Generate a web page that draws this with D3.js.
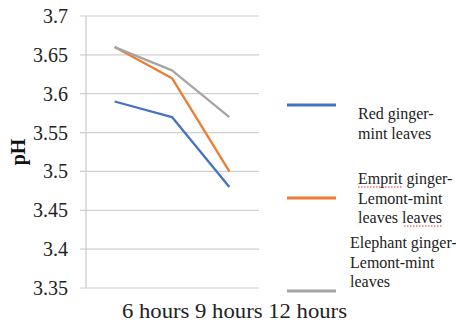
<!DOCTYPE html>
<html><head><meta charset="utf-8">
<script src="https://cdn.jsdelivr.net/npm/d3@7"></script>
<style>html,body{margin:0;padding:0;background:#fff}svg{display:block}
text{font-family:"Liberation Serif","Times New Roman","DejaVu Serif",serif;}</style>
</head><body>
<script>
const categories = ["6 hours", "9 hours", "12 hours"];
const seriesNames = [
  ["Red ginger-", "mint leaves"],
  ["Emprit ginger-", "Lemont-mint", "leaves leaves"],
  ["Elephant ginger-", "Lemont-mint", "leaves"]
];
const redValues = [3.59, 3.57, 3.48];
const empritValues = [3.66, 3.62, 3.50];
const elephantValues = [3.66, 3.63, 3.57];
const yTicks = [3.35, 3.4, 3.45, 3.5, 3.55, 3.6, 3.65, 3.7];
const yTickLabels = ["3.35", "3.4", "3.45", "3.5", "3.55", "3.6", "3.65", "3.7"];
const colors = ["#4472C4", "#ED7D31", "#A5A5A5"];
const series = [redValues, empritValues, elephantValues];

const W = 456, H = 326;
const svg = d3.select("body").append("svg").attr("width", W).attr("height", H);

const x = d3.scalePoint().domain(categories).range([86, 258]).padding(0.5);
const y = d3.scaleLinear().domain([3.35, 3.7]).range([288, 16]);

// gridlines
svg.append("g").selectAll("line").data(yTicks).join("line")
  .attr("x1", 80).attr("x2", 259)
  .attr("y1", d => y(d)).attr("y2", d => y(d))
  .attr("stroke", "#d0d0d0").attr("stroke-width", 1.2);

// vertical axis line
svg.append("line").attr("x1", 86).attr("x2", 86).attr("y1", y(3.7)).attr("y2", y(3.35))
  .attr("stroke", "#c8c8c8").attr("stroke-width", 1.2);

// y tick labels
svg.append("g").selectAll("text").data(yTicks).join("text")
  .attr("x", 68).attr("y", d => y(d)).attr("dy", "0.35em")
  .attr("text-anchor", "end").attr("font-size", 20)
  .attr("fill", "#222").text((d, i) => yTickLabels[i]);

// y title
svg.append("text").attr("transform", "translate(25,152) rotate(-90)")
  .attr("text-anchor", "middle").attr("font-size", 20)
  .attr("font-weight", "bold").attr("fill", "#111").text("pH");

// x labels (rendered as one run like the source)
svg.append("text").attr("x", 122).attr("y", 318)
  .attr("font-size", 20).attr("fill", "#222")
  .attr("textLength", 225).attr("lengthAdjust", "spacingAndGlyphs")
  .text(categories.join(" "));

// lines
const line = d3.line().x((d, i) => x(categories[i])).y(d => y(d));
svg.append("g").selectAll("path").data(series).join("path")
  .attr("d", d => line(d)).attr("fill", "none")
  .attr("stroke", (d, i) => colors[i]).attr("stroke-width", 2.3)
  .attr("stroke-linejoin", "round");

// legend
const legendLineY = [105, 198, 291];
const legendTextX = [358, 358, 350];
const legendTextY = [119, 184, 248];
const lineGap = [20, 19.5, 19.5];
const lg = svg.append("g");
seriesNames.forEach((names, i) => {
  lg.append("line").attr("x1", 287).attr("x2", 336)
    .attr("y1", legendLineY[i]).attr("y2", legendLineY[i])
    .attr("stroke", colors[i]).attr("stroke-width", 3);
  const t = lg.append("text").attr("font-size", 16).attr("fill", "#222");
  names.forEach((n, j) => {
    t.append("tspan").attr("x", legendTextX[i]).attr("y", legendTextY[i] + j * lineGap[i]).text(n);
  });
});
// spell-check squiggles
lg.append("path").attr("d", "M358,187 L402,187").attr("stroke", "#e03030")
  .attr("stroke-width", 1).attr("stroke-dasharray", "1.5,1.5");
lg.append("path").attr("d", "M404,226 L443,226").attr("stroke", "#e03030")
  .attr("stroke-width", 1).attr("stroke-dasharray", "1.5,1.5");
</script>
</body></html>
